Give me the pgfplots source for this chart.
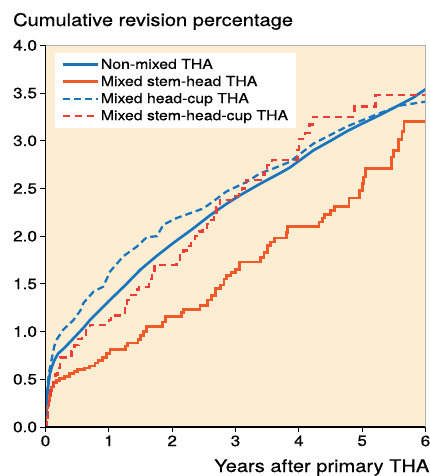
\documentclass[border=0pt]{standalone}
\usepackage{fontspec}
\setmainfont{TeX Gyre Heros}[FakeStretch=1.15, FakeBold=0.4]
\usepackage{pgfplots}
\pgfplotsset{compat=1.18}
\definecolor{bgc}{RGB}{253,238,211}
\definecolor{cblue}{RGB}{25,118,190}
\definecolor{corange}{RGB}{240,90,40}
\definecolor{cred}{RGB}{238,60,55}
\begin{document}
\begin{tikzpicture}
\begin{axis}[
  name=ax,
  at={(0,0)}, anchor=south west,
  scale only axis,
  width=380bp, height=381.6bp,
  xmin=0, xmax=6, ymin=0, ymax=4,
  xtick={0,1,2,3,4,5,6},
  ytick={0,0.5,1,1.5,2,2.5,3,3.5,4},
  yticklabel style={/pgf/number format/.cd, fixed, fixed zerofill, precision=1},
  /pgf/number format/assume math mode=true,
  tick label style={font=\fontsize{15}{17}\selectfont, black},
  xtick pos=bottom, ytick pos=left,
  tick align=outside,
  major tick length=5bp,
  tick style={black, line width=1bp},
  axis line style={draw=none},
  axis background/.style={fill=bgc},
  legend style={at={(0,1)}, anchor=north west, xshift=9.5bp, yshift=-7.3bp,
     draw=none, fill=white, font=\fontsize{13.8}{16}\selectfont,
     inner xsep=6bp, inner ysep=4bp, row sep=1.6bp},
  legend cell align=left,
  legend image code/.code={\draw[#1] (0bp,0bp) -- (35bp,0bp);},
  after end axis/.code={
    \draw[gray!60, line width=0.8bp] (rel axis cs:0,1) -- (rel axis cs:1,1) -- (rel axis cs:1,0);
    \draw[black, line width=1.8bp] (rel axis cs:0,1) -- (rel axis cs:0,0) -- (rel axis cs:1,0);
  },
]
% Non-mixed THA
\addplot[cblue, line width=2.7bp] coordinates {
(0,0) (0.01,0.2) (0.03,0.35) (0.05,0.47) (0.07,0.56) (0.1,0.63) (0.14,0.70) (0.2,0.77)
(0.3,0.83) (0.4,0.90) (0.5,0.97) (0.6,1.04) (0.7,1.12) (0.85,1.22) (1.0,1.32) (1.25,1.48)
(1.5,1.65) (1.75,1.79) (2.0,1.92) (2.33,2.08) (2.6,2.22) (2.86,2.34) (3.1,2.44) (3.39,2.55)
(3.7,2.66) (3.86,2.72) (4.23,2.90) (4.5,3.0) (4.76,3.10) (5.0,3.18) (5.28,3.27) (5.6,3.38)
(5.8,3.45) (6.0,3.54)};
\addlegendentry{Non-mixed THA}
% Mixed stem-head THA
\addplot[corange, line width=2.7bp, const plot] coordinates {
(0,0) (0.01,0.1) (0.02,0.2) (0.04,0.28) (0.06,0.33) (0.08,0.38) (0.1,0.42) (0.13,0.46)
(0.17,0.49) (0.22,0.51) (0.3,0.53) (0.38,0.56) (0.45,0.58) (0.5,0.60) (0.62,0.62) (0.7,0.64)
(0.78,0.67) (0.83,0.70) (0.9,0.73) (0.96,0.77) (1.02,0.81) (1.26,0.85) (1.3,0.88) (1.46,0.92)
(1.5,0.96) (1.55,1.0) (1.6,1.05) (1.85,1.10) (1.9,1.16) (2.15,1.2) (2.18,1.23) (2.44,1.27)
(2.56,1.33) (2.62,1.38) (2.68,1.45) (2.76,1.49) (2.82,1.55) (2.86,1.59) (2.93,1.62) (3.0,1.65)
(3.06,1.73) (3.4,1.78) (3.45,1.83) (3.5,1.90) (3.55,1.94) (3.62,1.98) (3.8,2.04) (3.82,2.10)
(4.32,2.15) (4.37,2.19) (4.41,2.23) (4.5,2.27) (4.56,2.31) (4.79,2.40) (4.96,2.48) (5.0,2.55)
(5.02,2.62) (5.05,2.71) (5.46,2.83) (5.5,2.90) (5.57,3.01) (5.63,3.10) (5.66,3.2) (6.0,3.2)};
\addlegendentry{Mixed stem-head THA}
% Mixed head-cup THA
\addplot[cblue, line width=2.3bp, dash pattern=on 7bp off 4bp] coordinates {
(0,0) (0.02,0.3) (0.05,0.55) (0.08,0.65) (0.1,0.72) (0.14,0.85) (0.18,0.92) (0.28,1.02)
(0.44,1.12) (0.55,1.22) (0.6,1.30) (0.76,1.42) (0.91,1.47) (1.02,1.63) (1.23,1.79) (1.44,1.89)
(1.6,1.99) (1.76,2.0) (1.86,2.12) (2.07,2.19) (2.49,2.29) (2.68,2.38) (2.86,2.47) (3.18,2.57)
(3.39,2.66) (3.6,2.71) (3.86,2.78) (4.23,2.97) (4.76,3.15) (5.28,3.29) (5.6,3.37) (6.0,3.41)};
\addlegendentry{Mixed head-cup THA}
% Mixed stem-head-cup THA
\addplot[cred, line width=2.3bp, dash pattern=on 7bp off 5bp, const plot] coordinates {
(0,0) (0.02,0.1) (0.04,0.2) (0.06,0.3) (0.08,0.4) (0.12,0.47) (0.16,0.55) (0.19,0.62)
(0.23,0.73) (0.41,0.80) (0.46,0.86) (0.52,0.92) (0.58,0.97) (0.64,1.02) (0.7,1.07) (1.0,1.12)
(1.03,1.17) (1.25,1.25) (1.29,1.33) (1.35,1.38) (1.42,1.44) (1.48,1.47) (1.63,1.55) (1.68,1.62)
(1.72,1.70) (2.07,1.75) (2.12,1.80) (2.18,1.85) (2.23,1.90) (2.3,1.95) (2.36,2.0) (2.42,2.05)
(2.48,2.09) (2.55,2.13) (2.62,2.17) (2.66,2.25) (2.7,2.30) (2.75,2.38) (3.0,2.42) (3.05,2.46)
(3.1,2.50) (3.17,2.59) (3.4,2.64) (3.46,2.70) (3.5,2.75) (3.58,2.80) (3.98,2.90) (4.0,3.02)
(4.1,3.08) (4.17,3.17) (4.22,3.25) (4.88,3.36) (5.21,3.48) (6.0,3.48)};
\addlegendentry{Mixed stem-head-cup THA}
\end{axis}
\node[anchor=base west, font=\fontsize{17.5}{20}\selectfont, inner sep=0pt] at ([xshift=-32.5bp, yshift=19.4bp]ax.north west) {Cumulative revision percentage};
\node[anchor=base east, font=\fontsize{17.5}{20}\selectfont, inner sep=0pt] at ([xshift=4bp, yshift=-45bp]ax.south east) {Years after primary THA};
\pgfresetboundingbox
\useasboundingbox ([xshift=-45.5bp, yshift=-49bp]ax.south west) rectangle ([xshift=4.5bp, yshift=45.4bp]ax.north east);
\end{tikzpicture}
\end{document}
